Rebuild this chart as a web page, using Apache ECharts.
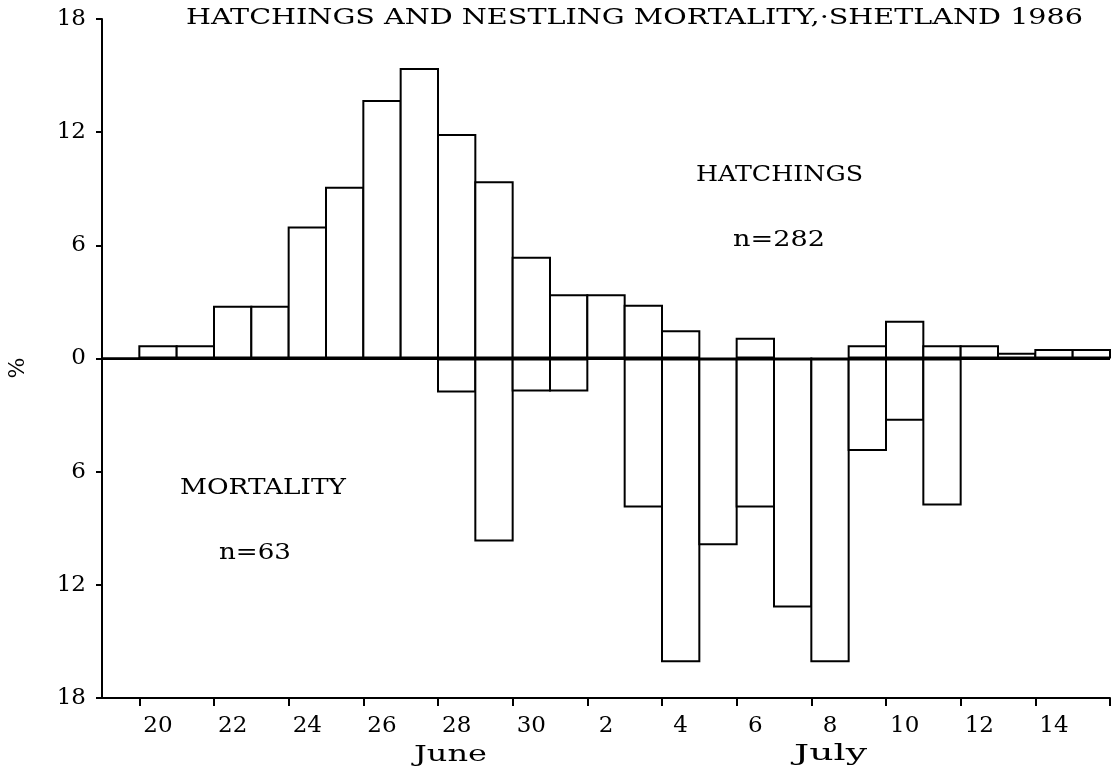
<!DOCTYPE html>
<html>
<head>
<meta charset="utf-8">
<script src="https://cdn.jsdelivr.net/npm/echarts@6/dist/echarts.min.js"></script>
<style>
html,body{margin:0;padding:0;background:#fff;}
#c{width:1120px;height:771px;}
</style>
</head>
<body>
<div id="c"></div>
<script>
// Days: 19 June .. 15 July 1986
const days = ['19','20','21','22','23','24','25','26','27','28','29','30',
              '1','2','3','4','5','6','7','8','9','10','11','12','13','14','15'];
// Hatchings, % of n=282
const hatchings = [0, 0.7, 0.7, 2.8, 2.8, 7.0, 9.1, 13.7, 15.4, 11.9, 9.4, 5.4,
                   3.4, 3.4, 2.85, 1.5, 0, 1.1, 0, 0, 0.7, 2.0, 0.7, 0.7, 0.3, 0.5, 0.5];
// Nestling mortality, % of n=63 (drawn downwards)
const mortality = [0, 0, 0, 0, 0, 0, 0, 0, 0, 1.8, 9.7, 1.75,
                   1.75, 0, 7.9, 16.1, 9.9, 7.9, 13.2, 16.1, 4.9, 3.3, 7.8, 0, 0, 0, 0];
const yTickValues = [-18, -12, -6, 0, 6, 12, 18];

const FONT = 'DejaVu Serif';
const ctx = document.createElement('canvas').getContext('2d');
function measure(text, size) {
  ctx.font = size + 'px "' + FONT + '"';
  return ctx.measureText(text).width;
}
function stretchedText(text, x0, x1, yc, size) {
  const s = (x1 - x0) / measure(text, size);
  return {
    type: 'text', x: x0, y: yc, scaleX: s, silent: true,
    style: {
      text: text, fontSize: size, fontFamily: FONT, fill: '#000',
      align: 'left', verticalAlign: 'middle',
      textAlign: 'left', textVerticalAlign: 'middle'
    }
  };
}

const GRID = { left: 102, right: 10, top: 19, bottom: 73 };
const BORDER = 2;
const band = (1120 - GRID.left - GRID.right) / days.length;

const chart = echarts.init(document.getElementById('c'));
const barStyle = { color: '#fff', borderColor: '#000', borderWidth: BORDER };
const oddOnly = (i) => i % 2 === 1;

chart.setOption({
  animation: false,
  backgroundColor: '#fff',
  grid: Object.assign({ containLabel: false }, GRID),
  xAxis: {
    type: 'category',
    data: days,
    boundaryGap: true,
    axisLine: { show: true, onZero: false, lineStyle: { color: '#000', width: 2 } },
    axisTick: { show: true, interval: oddOnly, length: 8, lineStyle: { color: '#000', width: 2 } },
    axisLabel: { interval: oddOnly, color: '#000', fontFamily: FONT, fontSize: 23, margin: 17 },
    splitLine: { show: false }
  },
  yAxis: {
    type: 'value',
    min: yTickValues[0],
    max: yTickValues[yTickValues.length - 1],
    interval: 6,
    axisLine: { show: true, onZero: false, lineStyle: { color: '#000', width: 2 } },
    axisTick: { show: true, length: 6, lineStyle: { color: '#000', width: 2 } },
    axisLabel: { color: '#000', fontFamily: FONT, fontSize: 23, margin: 16,
                 formatter: (v) => String(Math.abs(v)) },
    splitLine: { show: false }
  },
  series: [
    {
      type: 'bar', name: 'Hatchings', data: hatchings,
      barWidth: band + BORDER, barGap: '-100%',
      itemStyle: barStyle,
      markLine: {
        silent: true, symbol: 'none', label: { show: false },
        lineStyle: { color: '#000', width: 2, type: 'solid' },
        data: [{ yAxis: 0 }]
      }
    },
    {
      type: 'bar', name: 'Mortality', data: mortality.map(v => -v),
      barWidth: band + BORDER, barGap: '-100%',
      itemStyle: barStyle
    }
  ],
  graphic: [
    stretchedText('HATCHINGS AND NESTLING MORTALITY,·SHETLAND 1986', 186, 1083, 18, 23),
    stretchedText('HATCHINGS', 696, 863, 175, 23),
    stretchedText('n=282', 733, 825, 240, 23),
    stretchedText('MORTALITY', 180, 346, 488, 23),
    stretchedText('n=63', 219, 291, 553, 23),
    stretchedText('June', 414, 487, 755, 23),
    stretchedText('July', 794, 867, 754, 23),
    {
      type: 'text', x: 18, y: 368, rotation: Math.PI / 2, silent: true,
      style: { text: '%', fontSize: 22, fontFamily: FONT, fill: '#000',
               align: 'center', verticalAlign: 'middle',
               textAlign: 'center', textVerticalAlign: 'middle' }
    }
  ]
});
</script>
</body>
</html>
